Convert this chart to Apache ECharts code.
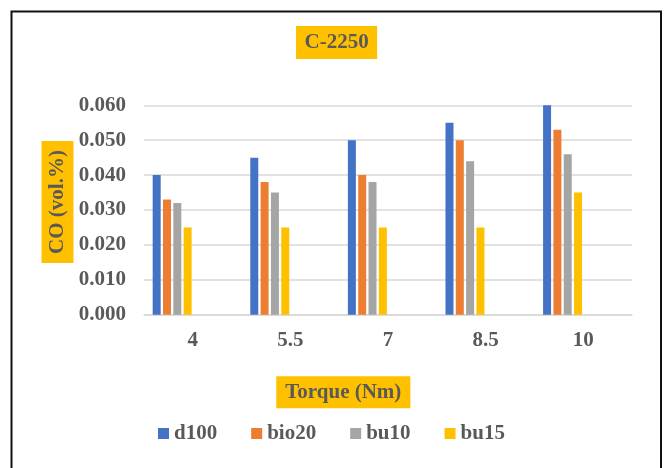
<!DOCTYPE html>
<html>
<head>
<meta charset="utf-8">
<script src="https://cdn.jsdelivr.net/npm/echarts@6/dist/echarts.min.js"></script>
<style>
  html, body { margin: 0; padding: 0; background: #fff; }
  #chart { width: 666px; height: 468px; }
</style>
</head>
<body>
<div id="chart"></div>
<script>
// Torque settings (Nm)
const torque = ['4', '5.5', '7', '8.5', '10'];

// CO emissions (vol.%) for each fuel blend
const d100  = [0.040, 0.045, 0.050, 0.055, 0.060];
const bio20 = [0.033, 0.038, 0.040, 0.050, 0.053];
const bu10  = [0.032, 0.035, 0.038, 0.044, 0.046];
const bu15  = [0.025, 0.025, 0.025, 0.025, 0.035];

const fuelNames = ['d100', 'bio20', 'bu10', 'bu15'];
const fuelData = [d100, bio20, bu10, bu15];
const fuelColors = ['#4472C4', '#ED7D31', '#A5A5A5', '#FFC000'];

const FONT = '"Liberation Serif", "Times New Roman", serif';
const TXT = '#595959';

const chart = echarts.init(document.getElementById('chart'), null, { renderer: 'canvas' });

const series = fuelNames.map((name, i) => ({
  name: name,
  type: 'bar',
  data: fuelData[i],
  barWidth: 8,
  barGap: '29%',
  itemStyle: { color: fuelColors[i] }
}));
// the workbook reserves four more (unused) series slots per category
for (let k = 0; k < 4; k++) {
  series.push({ name: 'slot' + k, type: 'bar', data: [], barWidth: 8, barGap: '29%', silent: true });
}

chart.setOption({
  backgroundColor: '#ffffff',
  animation: false,
  title: {
    text: 'C-2250',
    left: 296,
    top: 26,
    padding: [5.5, 8.5],
    backgroundColor: '#FFC000',
    textStyle: { fontFamily: FONT, fontSize: 21, fontWeight: 'bold', color: TXT, lineHeight: 22 }
  },
  legend: {
    data: fuelNames,
    left: 158,
    top: 423,
    padding: 0,
    itemWidth: 11,
    itemHeight: 11,
    itemGap: 34,
    icon: 'rect',
    textStyle: { fontFamily: FONT, fontSize: 21, fontWeight: 'bold', color: TXT }
  },
  grid: { left: 144, right: 34, top: 105.3, bottom: 153.3, containLabel: false },
  xAxis: {
    type: 'category',
    data: torque,
    axisLine: { lineStyle: { color: '#D9D9D9', width: 1.5 } },
    axisTick: { show: false },
    axisLabel: { margin: 15, fontFamily: FONT, fontSize: 21, fontWeight: 'bold', color: TXT }
  },
  yAxis: {
    type: 'value',
    min: 0,
    max: 0.06,
    interval: 0.01,
    axisLine: { show: false },
    axisTick: { show: false },
    splitLine: { lineStyle: { color: '#D9D9D9', width: 1.5 } },
    axisLabel: {
      margin: 18,
      fontFamily: FONT, fontSize: 21, fontWeight: 'bold', color: TXT,
      formatter: v => v.toFixed(3)
    }
  },
  graphic: [
    {
      type: 'rect',
      shape: { x: 11.5, y: 11.5, width: 649.5, height: 480 },
      style: { fill: 'none', stroke: '#111', lineWidth: 2 },
      silent: true
    },
    {
      type: 'text',
      x: 57.5,
      y: 202,
      rotation: Math.PI / 2,
      style: {
        text: 'CO (vol.%)',
        font: 'bold 21px ' + FONT,
        fill: TXT,
        align: 'center',
        verticalAlign: 'middle',
        backgroundColor: '#FFC000',
        padding: [5.5, 9]
      }
    },
    {
      type: 'text',
      x: 343.3,
      y: 392.3,
      style: {
        text: 'Torque (Nm)',
        font: 'bold 21px ' + FONT,
        fill: TXT,
        align: 'center',
        verticalAlign: 'middle',
        backgroundColor: '#FFC000',
        padding: [5.5, 9]
      }
    }
  ],
  series: series
});
</script>
</body>
</html>
